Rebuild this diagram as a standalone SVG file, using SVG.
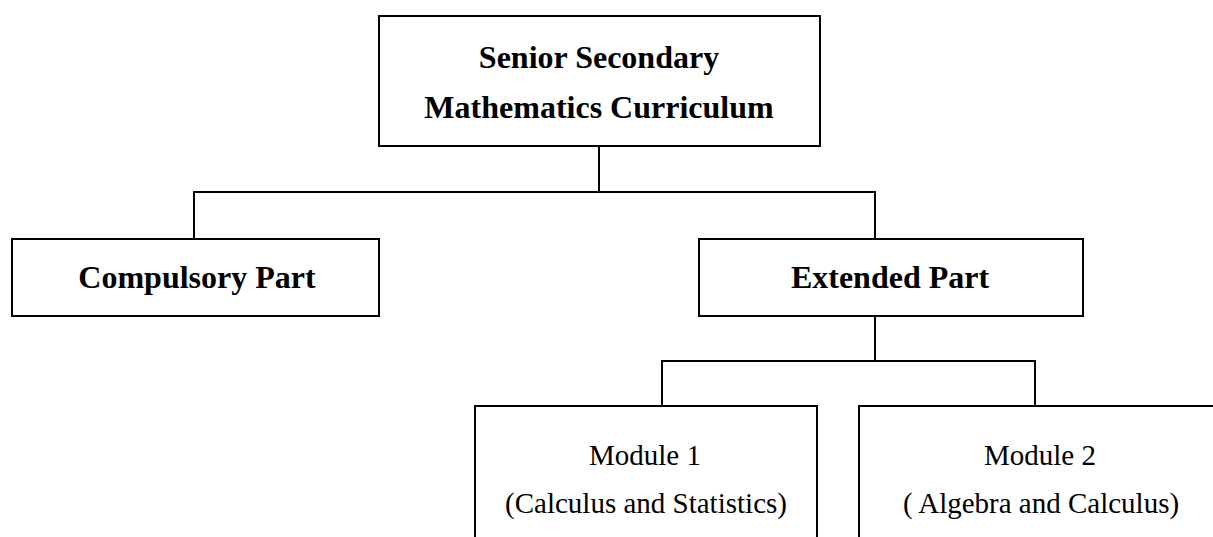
<svg xmlns="http://www.w3.org/2000/svg" width="1213" height="537" viewBox="0 0 1213 537">
<style>
.box{fill:#fff;stroke:#000;stroke-width:2}
.conn{fill:none;stroke:#000;stroke-width:2}
.b{font-family:"Liberation Serif","Times New Roman",serif;font-weight:bold;font-size:32px;fill:#000;text-anchor:middle}
.r{font-family:"Liberation Serif","Times New Roman",serif;font-size:29px;fill:#000;text-anchor:middle}
</style>
<rect width="1213" height="537" fill="#fff"/>
<g id="connectors">
<path class="conn" d="M599 146V192M194 239V192H875V239"/>
<path class="conn" d="M875 316V361M662 406V361H1035V406"/>
</g>
<g id="root">
<rect class="box" x="379" y="16" width="441" height="130"/>
<text class="b" x="599" y="68">Senior Secondary</text>
<text class="b" x="599" y="118">Mathematics Curriculum</text>
</g>
<g id="compulsory">
<rect class="box" x="12" y="239" width="367" height="77"/>
<text class="b" x="197" y="288">Compulsory Part</text>
</g>
<g id="extended">
<rect class="box" x="699" y="239" width="384" height="77"/>
<text class="b" x="890" y="288">Extended Part</text>
</g>
<g id="module1">
<rect class="box" x="475" y="406" width="342" height="160"/>
<text class="r" x="645" y="465">Module 1</text>
<text class="r" x="646" y="513">(Calculus and Statistics)</text>
</g>
<g id="module2">
<rect class="box" x="859" y="406" width="370" height="160"/>
<text class="r" x="1040" y="465">Module 2</text>
<text class="r" x="1041" y="513">( Algebra and Calculus)</text>
</g>
</svg>
